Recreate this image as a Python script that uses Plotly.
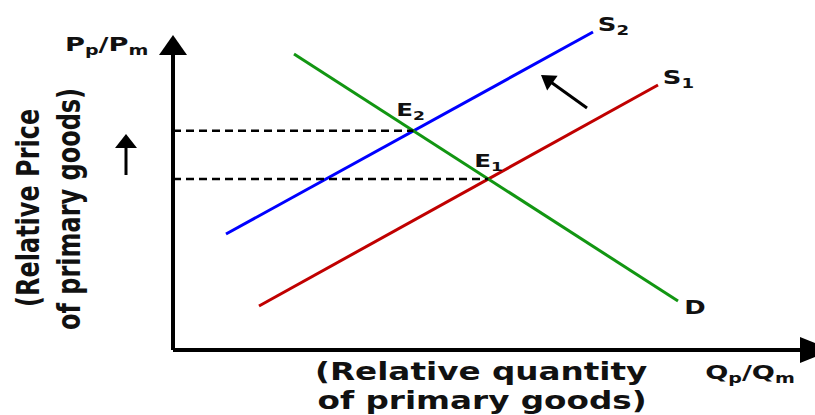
import numpy as np
import plotly.graph_objects as go

# Supply/demand curves in diagram units (origin at the axis corner)
s2_q = [53, 420]
s2_p = [116, 318]
s1_q = [86, 485]
s1_p = [44, 265]
d_q = [121, 505]
d_p = [296, 49]

curve_names = ["S<sub>2</sub>", "S<sub>1</sub>", "D"]
point_names = ["E<sub>2</sub>", "E<sub>1</sub>"]

# Axis extents
x_axis_end = 627
y_axis_end = 295
x_tip = 659
y_tip = 315

FONT = "DejaVu Sans"
INK = "#111111"
TEXT_STRETCH = 1.36


def intersect(qa, pa, qb, pb):
    ma = (pa[1] - pa[0]) / (qa[1] - qa[0])
    mb = (pb[1] - pb[0]) / (qb[1] - qb[0])
    q = (pb[0] - pa[0] + ma * qa[0] - mb * qb[0]) / (ma - mb)
    return q, pa[0] + ma * (q - qa[0])


def head_path(tail, tip, length, half):
    tx, ty = tip
    dx, dy = tx - tail[0], ty - tail[1]
    n = np.hypot(dx, dy)
    ux, uy = dx / n, dy / n
    bx, by = tx - ux * length, ty - uy * length
    px, py = -uy * half, ux * half
    return (f"M {tx},{ty} L {bx + px},{by + py} L {bx - px},{by - py} Z")


e2 = intersect(s2_q, s2_p, d_q, d_p)
e1 = intersect(s1_q, s1_p, d_q, d_p)

fig = go.Figure()

for q, p, col in [(s2_q, s2_p, "#0000ff"), (s1_q, s1_p, "#c00000"), (d_q, d_p, "#129612")]:
    fig.add_trace(go.Scatter(x=q, y=p, mode="lines",
                             line=dict(color=col, width=3), hoverinfo="skip"))

# Dashed guides from the price axis to each equilibrium
for e in (e2, e1):
    fig.add_trace(go.Scatter(x=[0, e[0]], y=[e[1], e[1]], mode="lines",
                             line=dict(color="black", width=2.5, dash="8px,5px"),
                             hoverinfo="skip"))

shapes = []
# Axes
shapes.append(dict(type="line", x0=0, y0=0, x1=x_axis_end, y1=0,
                   line=dict(color="black", width=4)))
shapes.append(dict(type="line", x0=0, y0=0, x1=0, y1=y_axis_end,
                   line=dict(color="black", width=4)))
shapes.append(dict(type="path", path=head_path((0, 0), (0, y_tip), 20, 14),
                   fillcolor="black", line=dict(width=0)))
shapes.append(dict(type="path", path=head_path((0, 0), (x_tip, 0), 32, 13),
                   fillcolor="black", line=dict(width=0)))

# Shift arrow and price-rise arrow
shift_tail, shift_tip = (414, 242), (368, 275)
rise_tail, rise_tip = (-47, 175), (-47, 216)
for tail, tip, ln, hw, w in [(shift_tail, shift_tip, 14, 9, 3), (rise_tail, rise_tip, 14, 11, 3)]:
    dx, dy = tip[0] - tail[0], tip[1] - tail[1]
    n = np.hypot(dx, dy)
    end = (tip[0] - dx / n * (ln - 2), tip[1] - dy / n * (ln - 2))
    shapes.append(dict(type="line", x0=tail[0], y0=tail[1], x1=end[0], y1=end[1],
                       line=dict(color="black", width=w)))
    shapes.append(dict(type="path", path=head_path(tail, tip, ln, hw),
                       fillcolor="black", line=dict(width=0)))

ann = []


def label(text, x, y, size, xanchor="center", yanchor="middle", xshift=0, yshift=0, angle=0):
    ann.append(dict(text=f"<b>{text}</b>", x=x, y=y, xref="x", yref="y",
                    showarrow=False, xanchor=xanchor, yanchor=yanchor,
                    xshift=xshift, yshift=yshift, textangle=angle,
                    font=dict(family=FONT, size=size, color=INK)))


label(curve_names[0], s2_q[1], s2_p[1], 19, xanchor="left", xshift=7, yshift=7)
label(curve_names[1], s1_q[1], s1_p[1], 19, xanchor="left", xshift=7, yshift=7)
label(curve_names[2], d_q[1], d_p[1], 19, xanchor="left", xshift=7, yshift=-6)
label(point_names[0], e2[0], e2[1], 18, xshift=-3, yshift=20)
label(point_names[1], e1[0], e1[1], 18, xshift=0, yshift=17)

label("P<sub>p</sub>/P<sub>m</sub>", -67, 305, 20)
label("Q<sub>p</sub>/Q<sub>m</sub>", 577, -23, 20)
label("(Relative quantity", 308, -22, 24)
label("of primary goods)", 309, -51, 24)
label("(Relative Price", -145, 142, 24, angle=-90)
label("of primary goods)", -104, 141, 24, angle=-90)

fig.update_layout(
    width=815, height=415,
    margin=dict(l=0, r=0, t=0, b=0),
    paper_bgcolor="white", plot_bgcolor="white",
    showlegend=False,
    xaxis=dict(range=[-173, 642], visible=False, fixedrange=True),
    yaxis=dict(range=[-65, 350], visible=False, fixedrange=True),
    shapes=shapes, annotations=ann,
)

# Widen the bold lettering across the reading direction of each label
post = """
var gd = document.getElementById('{plot_id}');
var s = %s;
gd.querySelectorAll('g.annotation').forEach(function(g){
  var idx = +g.getAttribute('data-index');
  var t = g.querySelector('text.annotation-text');
  if(!t) return;
  var a = gd.layout.annotations[idx] || {};
  var b = t.getBBox();
  var cx = b.x + b.width / 2, cy = b.y + b.height / 2;
  var tr = a.textangle ? 'translate(0,' + cy + ') scale(1,' + s + ') translate(0,' + (-cy) + ')'
                       : 'translate(' + cx + ',0) scale(' + s + ',1) translate(' + (-cx) + ',0)';
  var old = t.getAttribute('transform') || '';
  t.setAttribute('transform', tr + ' ' + old);
});
""" % TEXT_STRETCH

fig.write_html("out.html", post_script=post)
